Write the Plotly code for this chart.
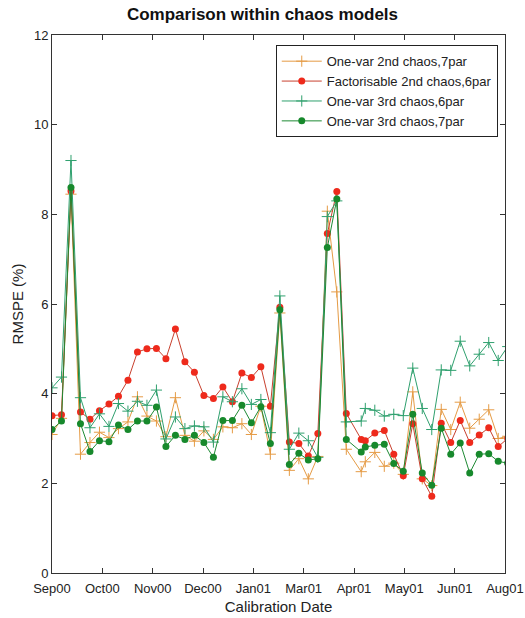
import pandas as pd
import plotly.graph_objects as go

# Calibration dates (weekly, one mid-week shift around Easter 2001)
dates = [
    "2000-09-01", "2000-09-08", "2000-09-15", "2000-09-22", "2000-09-29",
    "2000-10-06", "2000-10-13", "2000-10-20", "2000-10-27", "2000-11-03",
    "2000-11-10", "2000-11-17", "2000-11-24", "2000-12-01", "2000-12-08",
    "2000-12-15", "2000-12-22", "2000-12-29", "2001-01-05", "2001-01-12",
    "2001-01-19", "2001-01-26", "2001-02-02", "2001-02-09", "2001-02-16",
    "2001-02-23", "2001-03-02", "2001-03-09", "2001-03-16", "2001-03-23",
    "2001-03-30", "2001-04-06", "2001-04-17", "2001-04-20", "2001-04-27",
    "2001-05-04", "2001-05-11", "2001-05-18", "2001-05-25", "2001-06-01",
    "2001-06-08", "2001-06-15", "2001-06-22", "2001-06-29", "2001-07-06",
    "2001-07-13", "2001-07-20", "2001-07-27", "2001-08-03",
]

# RMSPE (%) per model
onevar_2nd_7par = [
    3.09, 3.45, 8.45, 2.65, 2.91, 3.14, 3.02, 3.22, 3.37, 3.93,
    3.50, 3.39, 3.04, 3.91, 3.07, 2.94, 3.17, 2.98, 3.26, 3.24,
    3.33, 3.09, 3.72, 2.65, 5.80, 2.29, 2.55, 2.10, 2.60, 8.07,
    6.27, 2.76, 2.26, 2.48, 2.69, 2.38, 2.45, 2.20, 4.04, 2.10,
    1.95, 3.65, 3.20, 3.81, 3.23, 3.43, 3.64, 3.00, 3.05,
]
factor_2nd_6par = [
    3.51, 3.53, 8.52, 3.59, 3.43, 3.62, 3.77, 3.94, 4.30, 4.93,
    5.00, 5.01, 4.78, 5.44, 4.71, 4.48, 3.96, 3.89, 4.15, 3.82,
    4.46, 4.36, 4.60, 3.72, 5.93, 2.92, 2.89, 2.61, 3.11, 7.57,
    8.51, 3.56, 2.98, 2.95, 3.12, 3.18, 2.65, 2.17, 3.33, 2.10,
    1.71, 3.34, 2.91, 3.40, 2.91, 3.08, 3.24, 2.82, 3.00,
]
onevar_3rd_6par = [
    4.13, 4.37, 9.20, 3.91, 3.24, 3.55, 3.27, 3.78, 3.61, 3.83,
    3.74, 4.08, 2.99, 3.48, 3.22, 3.28, 3.26, 2.92, 3.93, 3.82,
    4.11, 3.76, 3.87, 3.13, 6.18, 2.76, 3.12, 2.95, 2.58, 7.95,
    8.30, 3.37, 3.39, 3.67, 3.63, 3.50, 3.54, 3.51, 4.57, 3.67,
    3.20, 4.53, 4.52, 5.17, 4.62, 4.88, 5.14, 4.74, 5.05,
]
onevar_3rd_7par = [
    3.20, 3.39, 8.60, 3.33, 2.71, 2.95, 2.93, 3.30, 3.20, 3.39,
    3.39, 3.70, 2.82, 3.07, 2.98, 3.07, 2.91, 2.58, 3.40, 3.40,
    3.74, 3.35, 3.71, 2.89, 5.87, 2.42, 2.67, 2.52, 2.55, 7.26,
    8.34, 2.98, 2.70, 2.81, 2.85, 2.87, 2.44, 2.27, 3.54, 2.23,
    1.96, 3.23, 2.65, 2.90, 2.23, 2.65, 2.66, 2.49, 2.45,
]

series_names = [
    "One-var 2nd chaos,7par",
    "Factorisable 2nd chaos,6par",
    "One-var 3rd chaos,6par",
    "One-var 3rd chaos,7par",
]

tick_labels = ["Sep00", "Oct00", "Nov00", "Dec00", "Jan01",
               "Mar01", "Apr01", "May01", "Jun01", "Aug01"]
x_start, x_end = "2000-09-01", "2001-08-01"
y_ticks = [0, 2, 4, 6, 8, 10, 12]

# evenly spaced date ticks across the axis span
t0, t1 = pd.Timestamp(x_start), pd.Timestamp(x_end)
n = len(tick_labels)
tick_vals = [(t0 + (t1 - t0) * i / (n - 1)).strftime("%Y-%m-%d %H:%M:%S") for i in range(n)]

styles = [
    dict(line="#E59B45", marker=dict(symbol="cross-thin", size=8, line=dict(width=1, color="#E59B45"))),
    dict(line="#C8402E", marker=dict(symbol="circle", size=7, color="#EE2A1C")),
    dict(line="#2FA06E", marker=dict(symbol="cross-thin", size=8, line=dict(width=1, color="#2FA06E"))),
    dict(line="#1E8A34", marker=dict(symbol="circle", size=7, color="#17892C")),
]

fig = go.Figure()
for name, ys, st in zip(series_names,
                        [onevar_2nd_7par, factor_2nd_6par, onevar_3rd_6par, onevar_3rd_7par],
                        styles):
    fig.add_trace(go.Scatter(
        x=dates, y=ys, name=name, mode="lines+markers",
        line=dict(color=st["line"], width=1),
        marker=st["marker"],
    ))

font_family = "Liberation Sans, Arial, sans-serif"
fig.update_layout(
    width=525, height=618,
    margin=dict(l=52, r=20, t=35, b=45),
    paper_bgcolor="white", plot_bgcolor="white",
    font=dict(family=font_family, color="#222222", size=13),
    title=dict(text="<b>Comparison within chaos models</b>", x=0.5, xanchor="center",
               y=0.977, yanchor="middle", font=dict(size=17, color="#111111")),
    showlegend=True,
    legend=dict(x=0.984, y=0.981, xanchor="right", yanchor="top",
                bgcolor="white", bordercolor="#222222", borderwidth=1,
                font=dict(size=13, color="#222222"),
                tracegroupgap=0, itemwidth=40),
    xaxis=dict(
        type="date", range=[x_start, x_end], automargin=False,
        tickmode="array", tickvals=tick_vals, ticktext=tick_labels,
        ticks="inside", ticklen=5, tickcolor="#333333",
        showline=True, linecolor="#333333", linewidth=1, mirror="ticks",
        showgrid=False, zeroline=False,
        tickfont=dict(size=13), ticklabelstandoff=3,
        title=dict(text="Calibration Date", font=dict(size=15), standoff=6),
    ),
    yaxis=dict(
        range=[0, 12], tickvals=y_ticks, automargin=False,
        ticks="inside", ticklen=5, tickcolor="#333333",
        showline=True, linecolor="#333333", linewidth=1, mirror="ticks",
        showgrid=False, zeroline=False,
        tickfont=dict(size=13),
        title=dict(text="RMSPE (%)", font=dict(size=15), standoff=6),
    ),
)

fig.write_html("out.html")
